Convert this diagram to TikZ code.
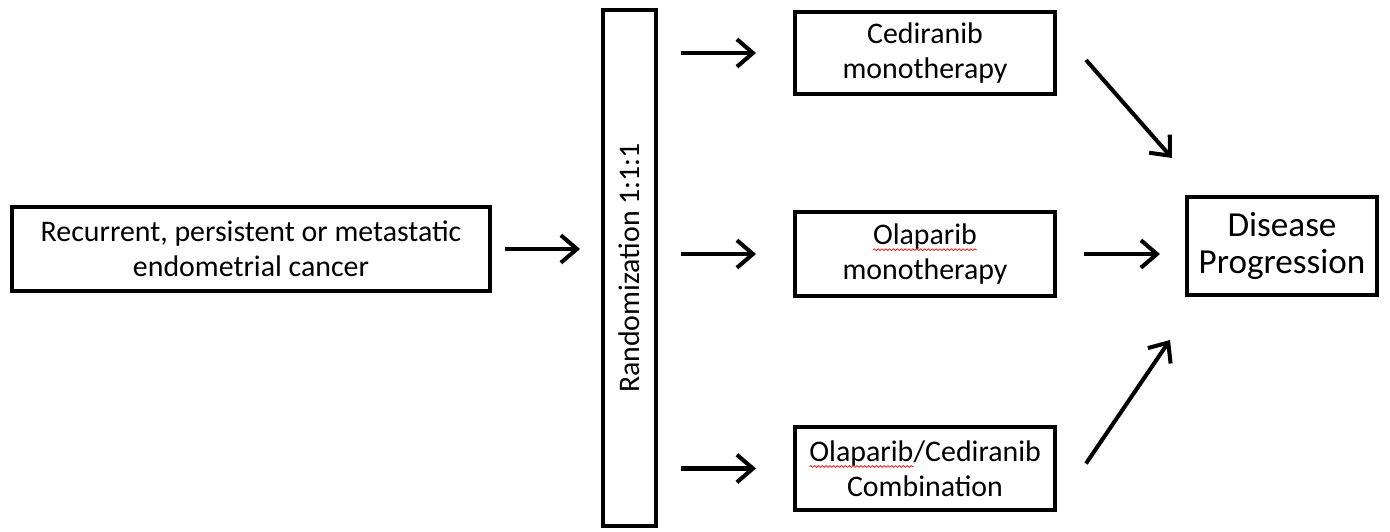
\documentclass[tikz,border=0pt]{standalone}
\usepackage{fontspec}
\setmainfont{Carlito}
\usetikzlibrary{shapes,arrows.meta,positioning,decorations.pathmorphing}

\tikzset{
	box/.style={draw, line width=2.3pt, align=center, inner sep=0pt, font=\fontsize{17}{20}\selectfont},
	arr/.style={line width=2.3pt, -{Straight Barb[length=0.32cm,width=0.55cm]}},
}
\newcommand{\spellmark}[1]{\tikz[baseline=(w.base)]{\node[draw=none, inner sep=0pt, outer sep=0pt, minimum width=0pt, minimum height=0pt] (w) {#1}; \draw[red, line width=0.4pt, decorate, decoration={snake, amplitude=0.5pt, segment length=2.2pt}] ([yshift=-3pt]w.base west) -- ([yshift=-3pt]w.base east);}}

\begin{document}
\begin{tikzpicture}[x=0.02cm, y=-0.02cm]
	\useasboundingbox (0,0) rectangle (1390,531);
	\node[box, minimum width=9.56cm, minimum height=1.68cm] (cancer) at (251,249) {Recurrent, persistent or metastatic\\endometrial cancer};
	\node[box, minimum width=1.06cm, minimum height=10.32cm] (rand) at (629.5,268) {\rotatebox{90}{Randomization 1:1:1}};
	\node[box, minimum width=5.2cm, minimum height=1.64cm] (ced) at (925,53) {Cediranib\\monotherapy};
	\node[box, minimum width=5.2cm, minimum height=1.68cm] (ola) at (925,254) {\spellmark{Olaparib}\\monotherapy};
	\node[box, minimum width=5.2cm, minimum height=1.66cm] (comb) at (925,468.5) {\spellmark{Olaparib}/Cediranib\\Combination};
	\node[box, font=\fontsize{20}{21.5}\selectfont, minimum width=3.8cm, minimum height=1.96cm] (dis) at (1282,246) {Disease\\Progression};
	
	\path [arr, shorten <=0.26cm, shorten >=0.42cm] (cancer.east) edge (cancer.east -| rand.west);
	\foreach \b in {ced,ola,comb}
		\path [arr, shorten <=0.46cm, shorten >=0.74cm] (rand.east |- \b.west) edge (\b.west);
	\path [arr] ([shift={(29,7)}]ced.east) edge ([shift={(-13,-37)}]dis.north west);
	\path [arr, shorten <=0.54cm, shorten >=0.5cm] (ola.east) edge (ola.east -| dis.west);
	\path [arr] ([shift={(29,-5)}]comb.east) edge ([shift={(-15,43)}]dis.south west);
\end{tikzpicture}
\end{document}
